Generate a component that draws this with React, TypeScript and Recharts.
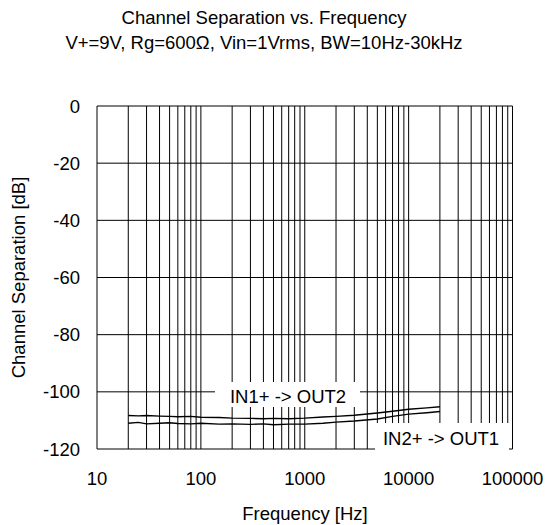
import {
  LineChart,
  Line,
  XAxis,
  YAxis,
  CartesianGrid,
  Customized,
} from "recharts";

const FONT = "'Liberation Sans', Arial, sans-serif";
const FS = 18.5;

// frequency points [Hz]
const freqs = [
  20, 25, 30, 40, 50, 60, 80, 100, 150, 200, 300, 400, 500, 700, 1000, 1500,
  2000, 3000, 5000, 7000, 10000, 15000, 20000,
];
// IN1+ -> OUT2 [dB]
const in1ToOut2 = [
  -108.3, -108.4, -108.3, -108.5, -108.6, -108.7, -108.6, -108.9, -109.0,
  -109.2, -109.3, -109.4, -109.3, -109.4, -109.2, -108.8, -108.6, -108.2,
  -107.4, -106.8, -106.1, -105.6, -105.2,
];
// IN2+ -> OUT1 [dB]
const in2ToOut1 = [
  -111.0, -110.7, -111.2, -111.0, -110.8, -111.1, -111.2, -111.0, -111.3,
  -111.2, -111.4, -111.2, -111.5, -111.3, -111.3, -111.0, -110.6, -110.2,
  -109.5, -108.6, -107.8, -107.3, -106.9,
];

const xTicks = [10, 100, 1000, 10000, 100000];
const yTicks = [0, -20, -40, -60, -80, -100, -120];
const gridMantissas = [1, 2, 3, 4, 5, 6, 7, 8, 9];
const gridDecades = [10, 100, 1000, 10000];
const gridFreqs = gridDecades
  .flatMap((d) => gridMantissas.map((m) => m * d))
  .concat([100000]);

const data = freqs.map((f, i) => ({
  freq: f,
  in1: in1ToOut2[i],
  in2: in2ToOut1[i],
}));

const txt = { fontFamily: FONT, fontSize: FS, fill: "#000" };

// vertical grid at every 1..9 x decade, mapped through the axis scale
function logGrid(props: any) {
  const { xAxis, offset } = props;
  if (xAxis && typeof xAxis.scale === "function") {
    return gridFreqs.map((f) => xAxis.scale(f));
  }
  return gridFreqs.map(
    (f) => offset.left + ((Math.log10(f) - 1) / 4) * offset.width
  );
}

function Annotations() {
  return (
    <g>
      <text x={264} y={23.5} textAnchor="middle" {...txt}>
        Channel Separation vs. Frequency
      </text>
      <text x={264} y={49} textAnchor="middle" {...txt}>
        V+=9V, Rg=600Ω, Vin=1Vrms, BW=10Hz-30kHz
      </text>
      <text
        x={25}
        y={277.5}
        textAnchor="middle"
        transform="rotate(-90, 25, 277.5)"
        {...txt}
      >
        Channel Separation [dB]
      </text>
      <text x={305} y={520} textAnchor="middle" {...txt}>
        Frequency [Hz]
      </text>
      <rect x={215} y={382} width={145} height={25} fill="#fff" />
      <text x={288} y={402.5} textAnchor="middle" {...txt}>
        IN1+ -&gt; OUT2
      </text>
      <rect x={375} y={423} width={134} height={30} fill="#fff" />
      <text x={441} y={445} textAnchor="middle" {...txt}>
        IN2+ -&gt; OUT1
      </text>
    </g>
  );
}

export default function App() {
  return (
    <div style={{ position: "absolute", left: 0, top: 0, background: "#fff" }}>
      <LineChart
        width={547}
        height={525}
        data={data}
        margin={{ top: 106, right: 34.5, bottom: 0, left: 0 }}
      >
        <CartesianGrid
          stroke="#000"
          strokeWidth={1}
          horizontalValues={yTicks}
          verticalCoordinatesGenerator={logGrid}
        />
        <XAxis
          dataKey="freq"
          type="number"
          scale="log"
          domain={[10, 100000]}
          ticks={xTicks}
          allowDataOverflow
          height={76}
          axisLine={false}
          tickLine={false}
          tickMargin={17}
          tick={{ fontFamily: FONT, fontSize: FS, fill: "#000" }}
        />
        <YAxis
          type="number"
          domain={[-120, 0]}
          ticks={yTicks}
          width={97}
          axisLine={false}
          tickLine={false}
          tickMargin={11}
          tick={{ fontFamily: FONT, fontSize: FS, fill: "#000" }}
        />
        <Line
          dataKey="in1"
          stroke="#000"
          strokeWidth={1.4}
          dot={false}
          isAnimationActive={false}
        />
        <Line
          dataKey="in2"
          stroke="#000"
          strokeWidth={1.4}
          dot={false}
          isAnimationActive={false}
        />
        <Customized component={Annotations} />
      </LineChart>
    </div>
  );
}
